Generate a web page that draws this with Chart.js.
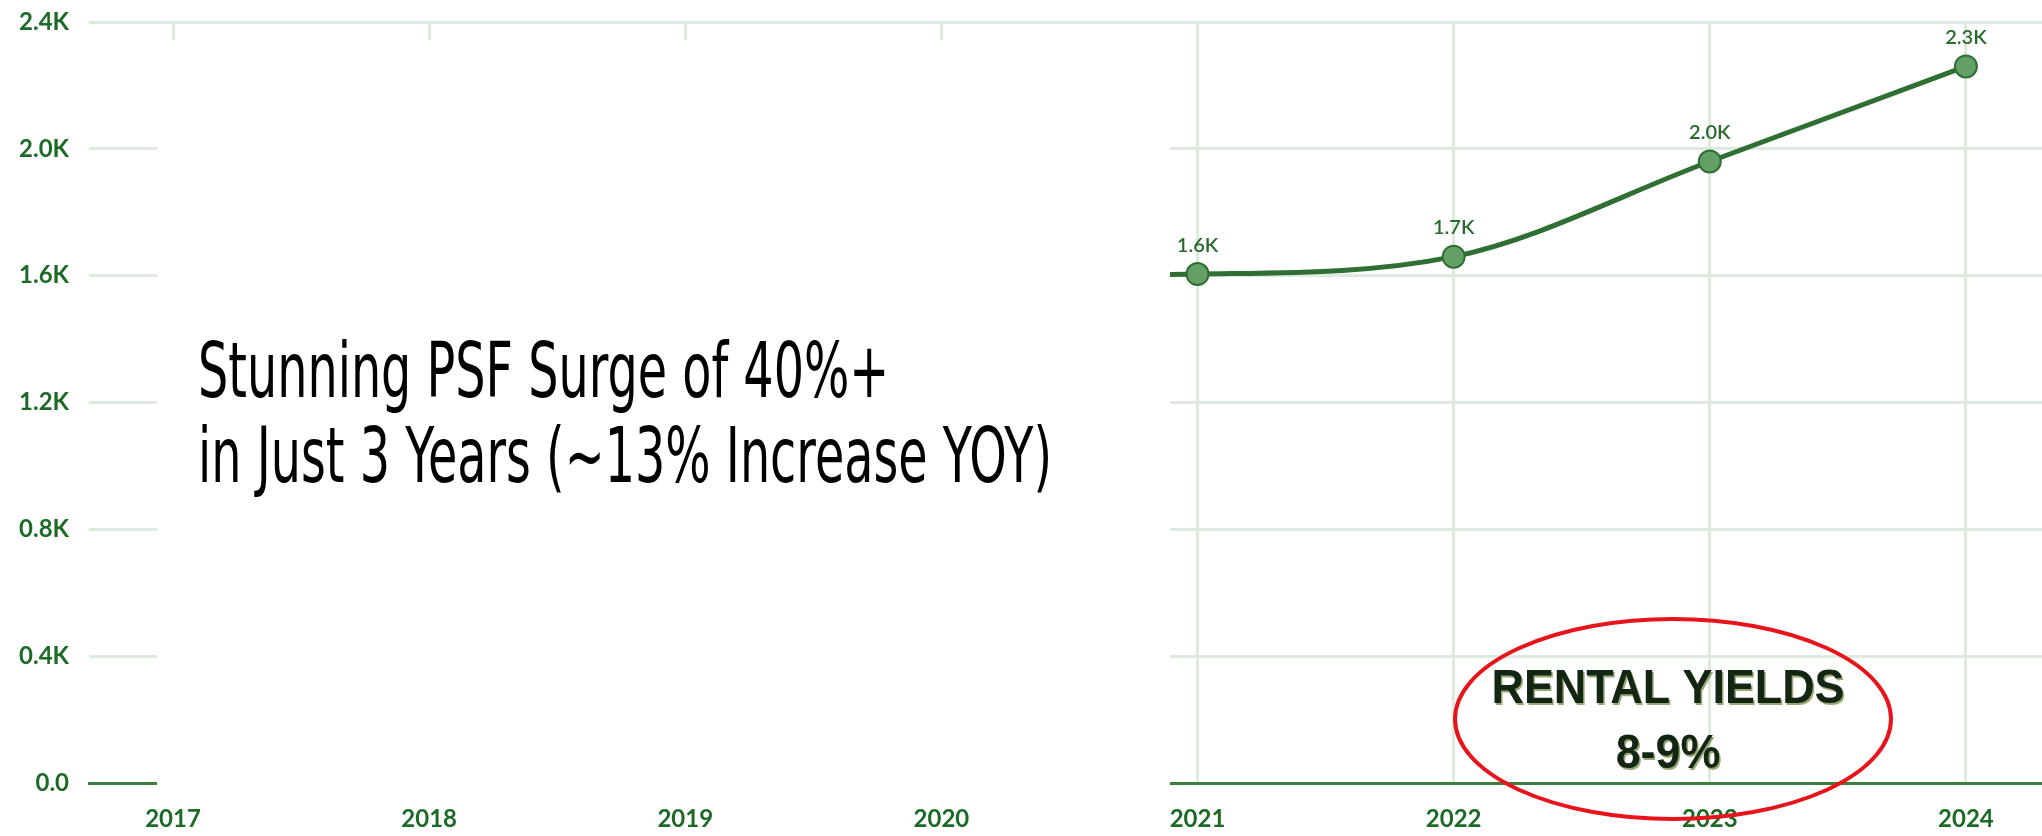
<!DOCTYPE html>
<html>
<head>
<meta charset="utf-8">
<title>PSF trend</title>
<script src="https://cdn.jsdelivr.net/npm/chart.js@4.4.1/dist/chart.umd.min.js"></script>
<style>
  html, body { margin: 0; padding: 0; background: #fff; overflow: hidden; }
  #wrap { width: 2042px; height: 836px; }
  canvas { display: block; }
</style>
</head>
<body>
<div id="wrap"><canvas id="psfChart" width="2042" height="836"></canvas></div>
<script>
const years = [2017, 2018, 2019, 2020, 2021, 2022, 2023, 2024];
// 2017-2019 are hidden behind the note box, 2020 only shows as the line stub
const psf = [null, null, null, 1600, 1605, 1660, 1960, 2260];
const yTicks = [0, 400, 800, 1200, 1600, 2000, 2400];
const noteLines = ['Stunning PSF Surge of 40%+', 'in Just 3 Years (~13% Increase YOY)'];
const yieldLines = ['RENTAL YIELDS', '8-9%'];

const green = '#2f6f33';
const labelGreen = '#1d6a27';
const gridColor = '#dfeadf';

function kLabel(v) {
    return v === 0 ? '0.0' : (v / 1000).toFixed(1) + 'K';
}

const overlay = {
    id: 'overlay',
    afterDatasetsDraw(chart) {
        const ctx = chart.ctx;
        const meta = chart.getDatasetMeta(0);

        // value labels over the points
        ctx.save();
        ctx.font = '600 20px Lato';
        ctx.fillStyle = '#2a6a2e';
        ctx.textAlign = 'center';
        ctx.textBaseline = 'middle';
        meta.data.forEach((pt, i) => {
            if (psf[i] == null) return;
            ctx.fillText(kLabel(psf[i]), pt.x, pt.y - 29);
        });
        ctx.restore();

        // white note box pasted over the early years
        ctx.save();
        ctx.fillStyle = '#fff';
        ctx.fillRect(157, 40, 1013, 758);

        ctx.font = '400 77px "DejaVu Sans"';
        const sx = 854 / ctx.measureText(noteLines[1]).width;
        ctx.translate(198, 0);
        ctx.scale(sx, 1);
        ctx.fillStyle = '#000';
        ctx.textAlign = 'left';
        ctx.textBaseline = 'alphabetic';
        ctx.fillText(noteLines[0], 0, 397);
        ctx.fillText(noteLines[1], 0, 482);
        ctx.restore();

        // rental yield callout
        ctx.save();
        ctx.font = 'bold 48px "Liberation Sans"';
        const rs = 353 / ctx.measureText(yieldLines[0]).width;
        ctx.translate(1668, 0);
        ctx.scale(rs, 1);
        ctx.textAlign = 'center';
        ctx.textBaseline = 'alphabetic';
        ctx.shadowColor = 'rgba(110,130,60,0.7)';
        ctx.shadowOffsetX = 1.5;
        ctx.shadowOffsetY = 1.5;
        ctx.fillStyle = '#132613';
        ctx.fillText(yieldLines[0], 0, 703);
        ctx.fillText(yieldLines[1], 0, 768);
        ctx.restore();

        ctx.save();
        ctx.beginPath();
        ctx.ellipse(1673, 719, 218, 100, 0, 0, Math.PI * 2);
        ctx.strokeStyle = '#e8141b';
        ctx.lineWidth = 4;
        ctx.stroke();
        ctx.restore();
    }
};

new Chart(document.getElementById('psfChart'), {
    type: 'line',
    data: {
        datasets: [{
            data: years.map((yr, i) => ({ x: yr, y: psf[i] })),
            borderColor: green,
            borderWidth: 5,
            cubicInterpolationMode: 'monotone',
            pointRadius: 11,
            pointBorderWidth: 2,
            pointBackgroundColor: '#64a066',
            pointBorderColor: green,
            spanGaps: false
        }]
    },
    options: {
        responsive: false,
        animation: false,
        devicePixelRatio: 1,
        layout: { autoPadding: false, padding: { top: 22, left: 0, right: 0, bottom: 0 } },
        plugins: { legend: { display: false }, tooltip: { enabled: false } },
        scales: {
            x: {
                type: 'linear',
                min: 2016.672,
                max: 2024.297,
                afterBuildTicks: s => { s.ticks = years.map(v => ({ value: v })); },
                afterFit: s => { s.height = 53; s.paddingLeft = 0; s.paddingRight = 0; },
                grid: { color: gridColor, lineWidth: 3, drawTicks: false },
                border: { display: true, color: '#3d7d3d', width: 3 },
                ticks: {
                    includeBounds: false,
                    padding: 22,
                    color: labelGreen,
                    font: { family: 'Lato', weight: 'bold', size: 24 },
                    callback: v => String(v)
                }
            },
            y: {
                min: 0,
                max: 2400,
                afterBuildTicks: s => { s.ticks = yTicks.map(v => ({ value: v })); },
                afterFit: s => { s.width = 89; s.paddingTop = 0; s.paddingBottom = 0; },
                grid: {
                    color: c => (c.tick && c.tick.value === 0) ? 'rgba(0,0,0,0)' : gridColor,
                    lineWidth: 3,
                    drawTicks: false
                },
                border: { display: false },
                ticks: {
                    padding: 20,
                    color: labelGreen,
                    font: { family: 'Lato', weight: 'bold', size: 24 },
                    callback: v => kLabel(v)
                }
            }
        }
    },
    plugins: [overlay]
});
</script>
</body>
</html>
